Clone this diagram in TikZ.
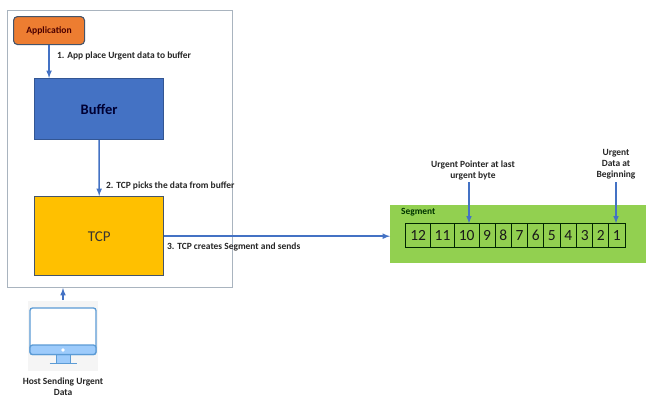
\documentclass[tikz,border=0pt]{standalone}
\usepackage{xcolor}
\usepackage{fontspec}
\setmainfont{Carlito}
\definecolor{link}{HTML}{4472C4}
\definecolor{frame}{HTML}{A9B4BF}
\definecolor{appfill}{HTML}{ED7D31}
\definecolor{appline}{HTML}{44546A}
\definecolor{buffill}{HTML}{4472C4}
\definecolor{tcpfill}{HTML}{FFC000}
\definecolor{segfill}{HTML}{92D050}
\definecolor{screen}{HTML}{5B9BD5}
\definecolor{band}{HTML}{9DCBFB}
\definecolor{lab}{HTML}{262626}
\tikzset{
  wire/.style={draw=link, line width=1.5pt, -{latex}},
  procbox/.style={draw, line width=1.1pt, anchor=north west},
  lab/.style={text=lab, font=\fontsize{9.45}{11}\selectfont\bfseries, align=center},
  cell/.style={draw=black!85!green, line width=0.8pt, minimum height=23.5pt, inner sep=0pt, text=black!90, font=\fontsize{15.5}{15.5}\selectfont}
}
\begin{document}
\begin{tikzpicture}[x=1pt,y=-1pt]
  \useasboundingbox (0,0) rectangle (654,402);
  \fill[white] (0,0) rectangle (654,402);
  % sending host
  \node[draw=frame, line width=1pt, anchor=north west, minimum width=225pt, minimum height=277.5pt, inner sep=0pt] (host) at (7,9.5) {};
  \node[procbox, draw=appline, fill=appfill, rounded corners=4pt, minimum width=71pt, minimum height=28pt, inner sep=0pt, text=black!70!red, font=\fontsize{9.6}{11}\selectfont\bfseries] (application) at (13,16) {Application};
  \node[procbox, draw=link!75!black, fill=buffill, minimum width=129pt, minimum height=61pt, inner sep=0pt, text=blue!20!black, font=\fontsize{14.5}{16}\selectfont\bfseries] (buffer) at (34,78) {Buffer};
  \node[procbox, draw=appline, fill=tcpfill, line width=1.4pt, minimum width=129pt, minimum height=79pt, inner sep=0pt, text=black!90!yellow, font=\fontsize{15}{16}\selectfont] (tcp) at (34,196) {TCP};
  \draw[wire] (application.south) -- (application.south |- buffer.north);
  \draw[wire] (buffer.south) -- (tcp.north);
  \node[lab, anchor=west, inner sep=0pt] (step1) at (57,56) {1. App place Urgent data to buffer};
  \node[lab, anchor=west, inner sep=0pt] (step2) at (106,186) {2. TCP picks the data from buffer};
  \node[lab, anchor=west, inner sep=0pt] (step3) at (167,247) {3. TCP creates Segment and sends};
  % segment
  \node[fill=segfill, anchor=north west, minimum width=255.5pt, minimum height=58pt, inner sep=0pt] (segment) at (390,205) {};
  \node[lab, anchor=west, inner sep=0pt, text=black!80!green, font=\fontsize{9.4}{11}\selectfont\bfseries] (seglab) at (401,212) {Segment};
  \foreach \num/\xa/\xb in {12/405.7/430.7, 11/430.7/454.3, 10/454.3/479, 9/479/495.3, 8/495.3/511.3, 7/511.3/527.7, 6/527.7/543.7, 5/543.7/560, 4/560/576.7, 3/576.7/592.7, 2/592.7/608.7, 1/608.7/625} {
    \pgfmathsetmacro{\cellw}{\xb-\xa}
    \pgfmathsetmacro{\cellx}{(\xa+\xb)/2}
    \node[cell, minimum width=\cellw pt] (cell\num) at (\cellx,235.5) {\num};
  }
  \draw[wire] (tcp.east) -- (segment.west |- tcp.east);
  % pointers
  \node[lab] (ptrlab) at (473,170) {Urgent Pointer at last\\urgent byte};
  \node[lab] (datalab) at (616,164.5) {Urgent\\Data at\\Beginning};
  \coordinate (ptrtop) at (469,182);
  \coordinate (datatop) at (616,182);
  \draw[wire] (ptrtop) -- (ptrtop |- cell10.north);
  \draw[wire] (datatop) -- (datatop |- cell1.north);
  % monitor
  \fill[black!4] (28,301) rectangle (98,371);
  \draw[draw=screen, fill=band, line width=1pt] (56,354) rectangle (70,363);
  \draw[draw=screen, line width=1.4pt] (49.5,363.5) -- (77,363.5);
  \draw[draw=screen, fill=white, line width=1.3pt, rounded corners=2.5pt] (30,308) rectangle (96,354.5);
  \draw[draw=screen, fill=band, line width=1.3pt, rounded corners=2.5pt] (30,345) -- (96,345) -- (96,354.5) -- (30,354.5) -- cycle;
  \fill[white] (63,350) circle (1.8);
  \coordinate (monitortop) at (63,300);
  \draw[wire] (monitortop) -- (monitortop |- host.south);
  \node[lab] (hostlab) at (63,387) {Host Sending Urgent\\Data};
\end{tikzpicture}
\end{document}
